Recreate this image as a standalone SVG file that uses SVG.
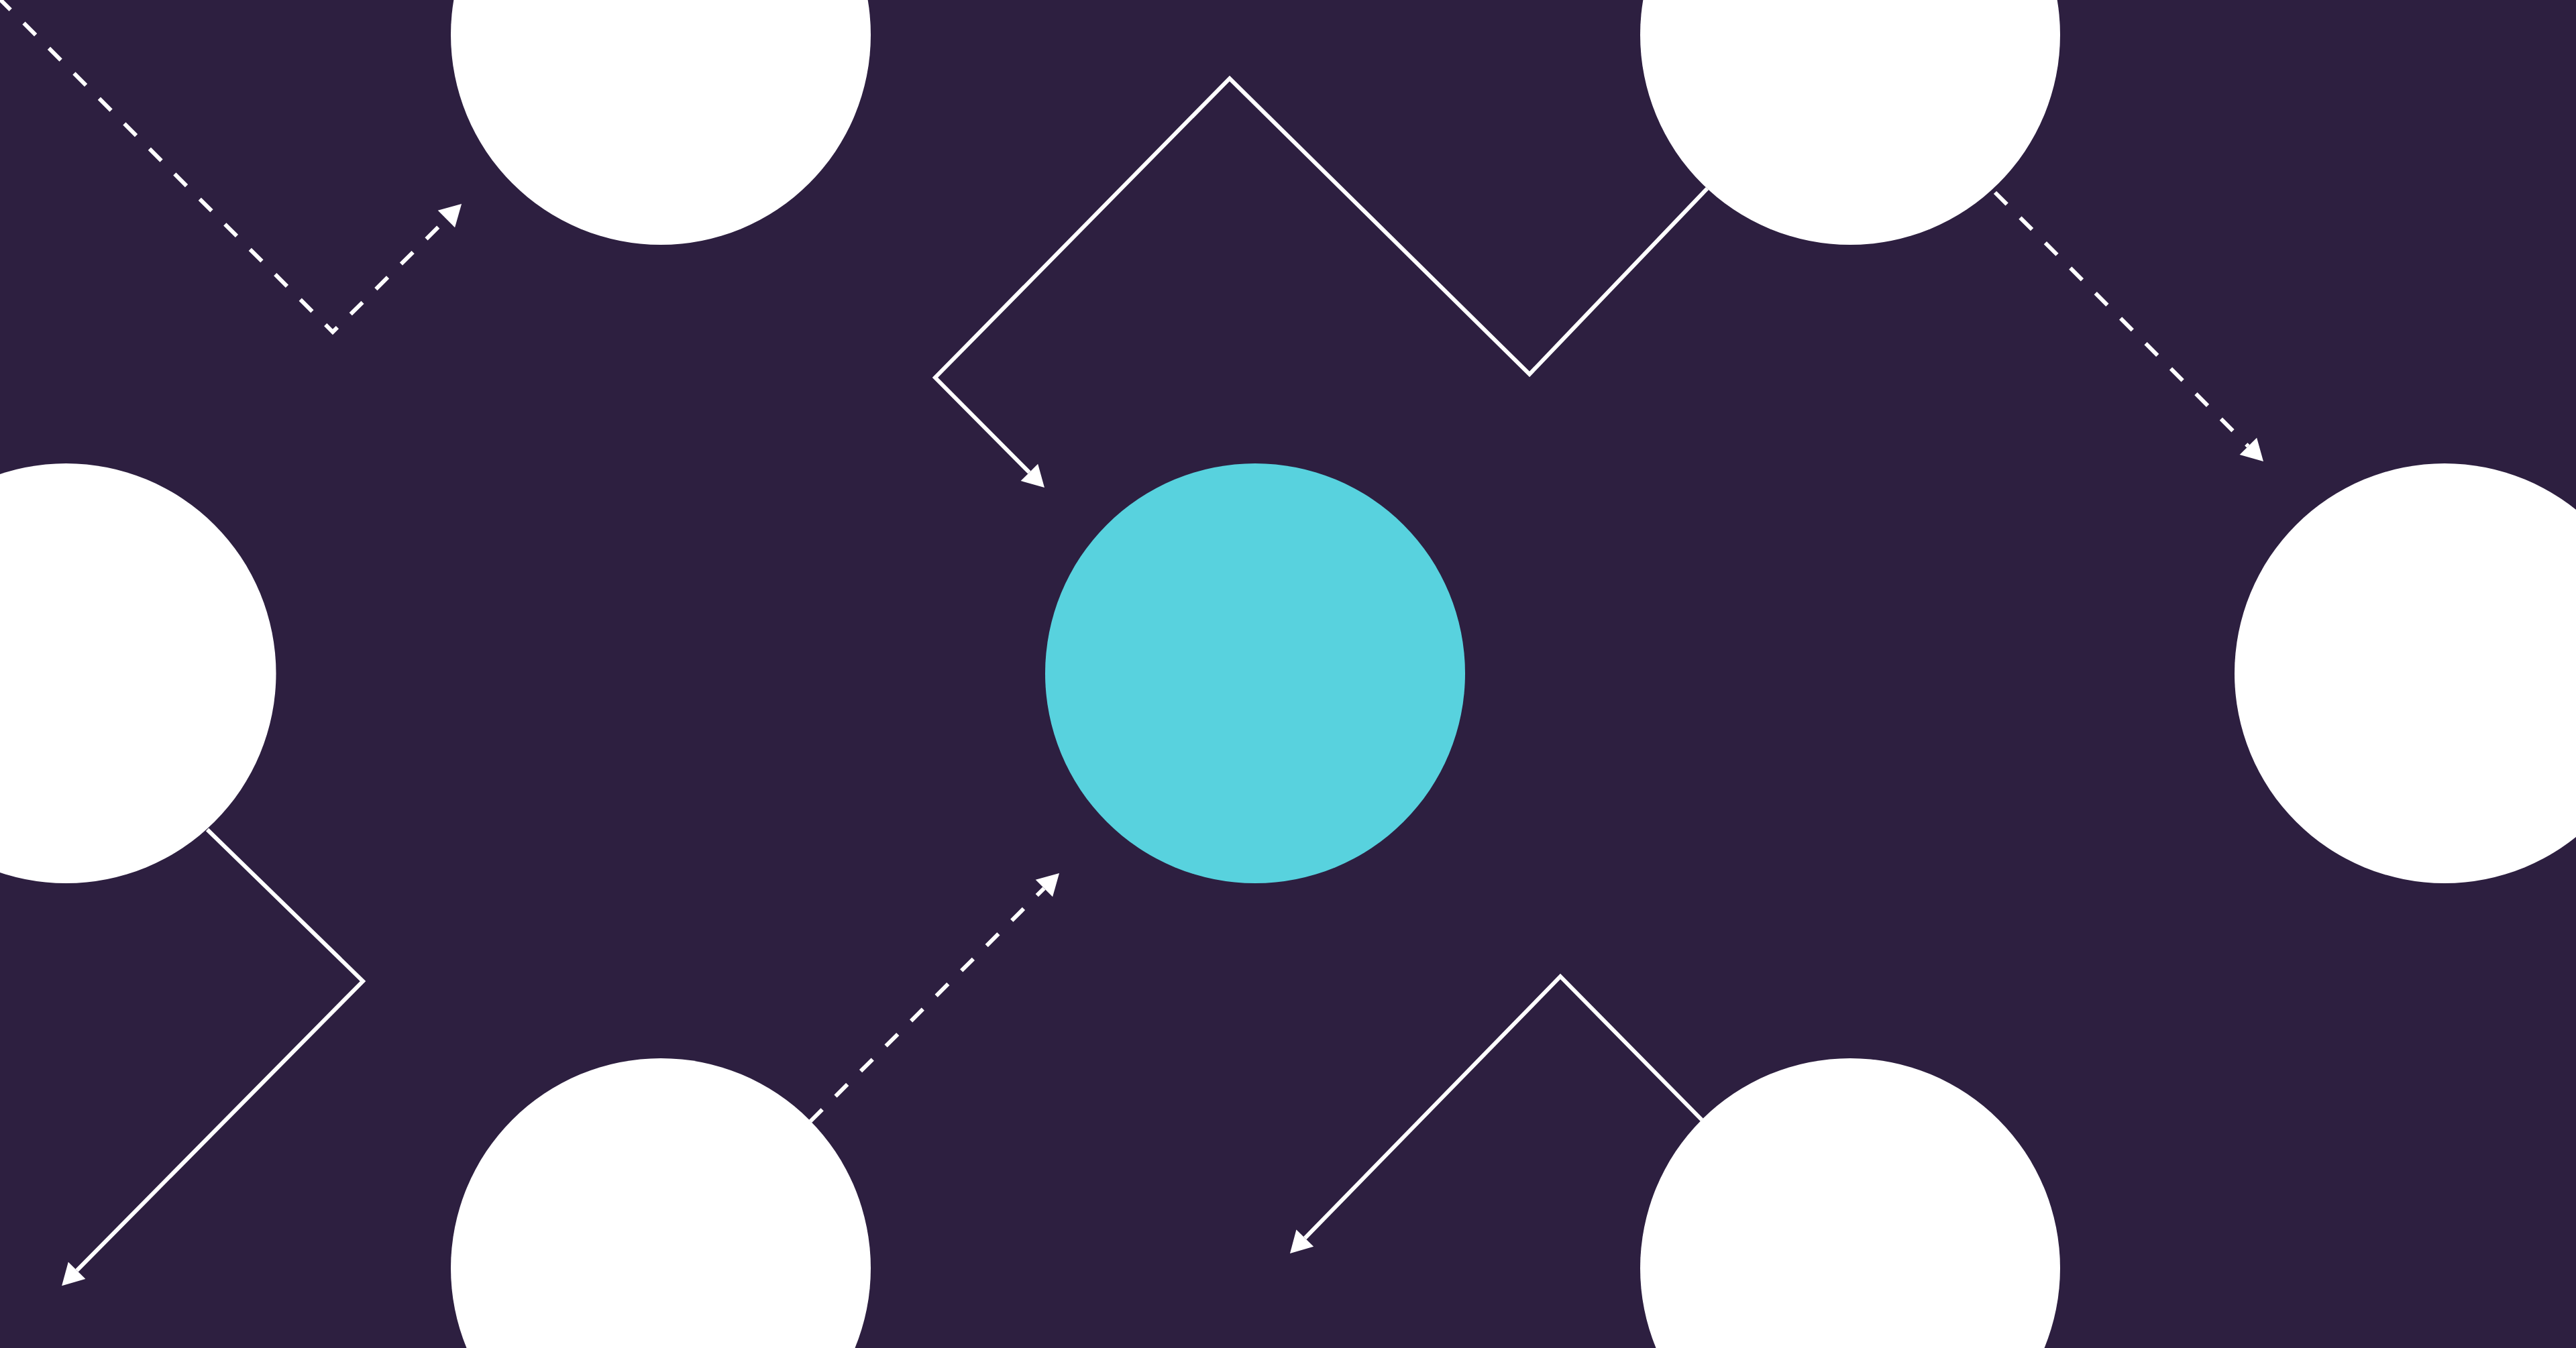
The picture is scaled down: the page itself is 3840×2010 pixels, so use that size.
<svg xmlns="http://www.w3.org/2000/svg" width="3840" height="2010" viewBox="0 0 3840 2010">
  <style>
    .bg { fill: #2d1f40; }
    .node { fill: #ffffff; }
    .hub { fill: #58d2de; }
    .link { fill: none; stroke: #ffffff; stroke-width: 6; stroke-linejoin: miter; }
    .dash { stroke-dasharray: 25 28; }
    .head { fill: #ffffff; stroke: none; }
  </style>
  <defs>
    <marker id="arrow" markerUnits="userSpaceOnUse" markerWidth="32" markerHeight="36" viewBox="0 0 32 36" refX="0" refY="18" orient="auto" overflow="visible">
      <path class="head" d="M0,0 L32,18 L0,36 Z"/>
    </marker>
  </defs>
  <rect class="bg" x="0" y="0" width="3840" height="2010"/>

  <g id="connectors">
    <path id="c1" class="link dash" d="M-2,-3 L496,495 L665.4,326.6" marker-end="url(#arrow)"/>
    <path id="c2" class="link" d="M2545,281 L2280,558 L1833,117 L1394,563 L1534.4,704.4" marker-end="url(#arrow)"/>
    <path id="c3" class="link dash" d="M2974,287 L3351.4,665.4" marker-end="url(#arrow)"/>
    <path id="c4" class="link" d="M309,1237 L541,1463 L114.6,1894.4" marker-end="url(#arrow)"/>
    <path id="c5" class="link dash" d="M1208,1672 L1556.4,1324.6" marker-end="url(#arrow)"/>
    <path id="c6" class="link" d="M2537,1670 L2326,1456 L1945.3,1846.1" marker-end="url(#arrow)"/>
  </g>

  <g id="node-top-left"><circle class="node" cx="985" cy="52" r="313"/></g>
  <g id="node-top-right"><circle class="node" cx="2758" cy="52" r="313"/></g>
  <g id="node-left"><circle class="node" cx="98.5" cy="1004" r="313"/></g>
  <g id="node-center"><circle class="hub" cx="1871" cy="1004" r="313"/></g>
  <g id="node-right"><circle class="node" cx="3644" cy="1004" r="313"/></g>
  <g id="node-bottom-left"><circle class="node" cx="985" cy="1891" r="313"/></g>
  <g id="node-bottom-right"><circle class="node" cx="2758" cy="1891" r="313"/></g>
</svg>
